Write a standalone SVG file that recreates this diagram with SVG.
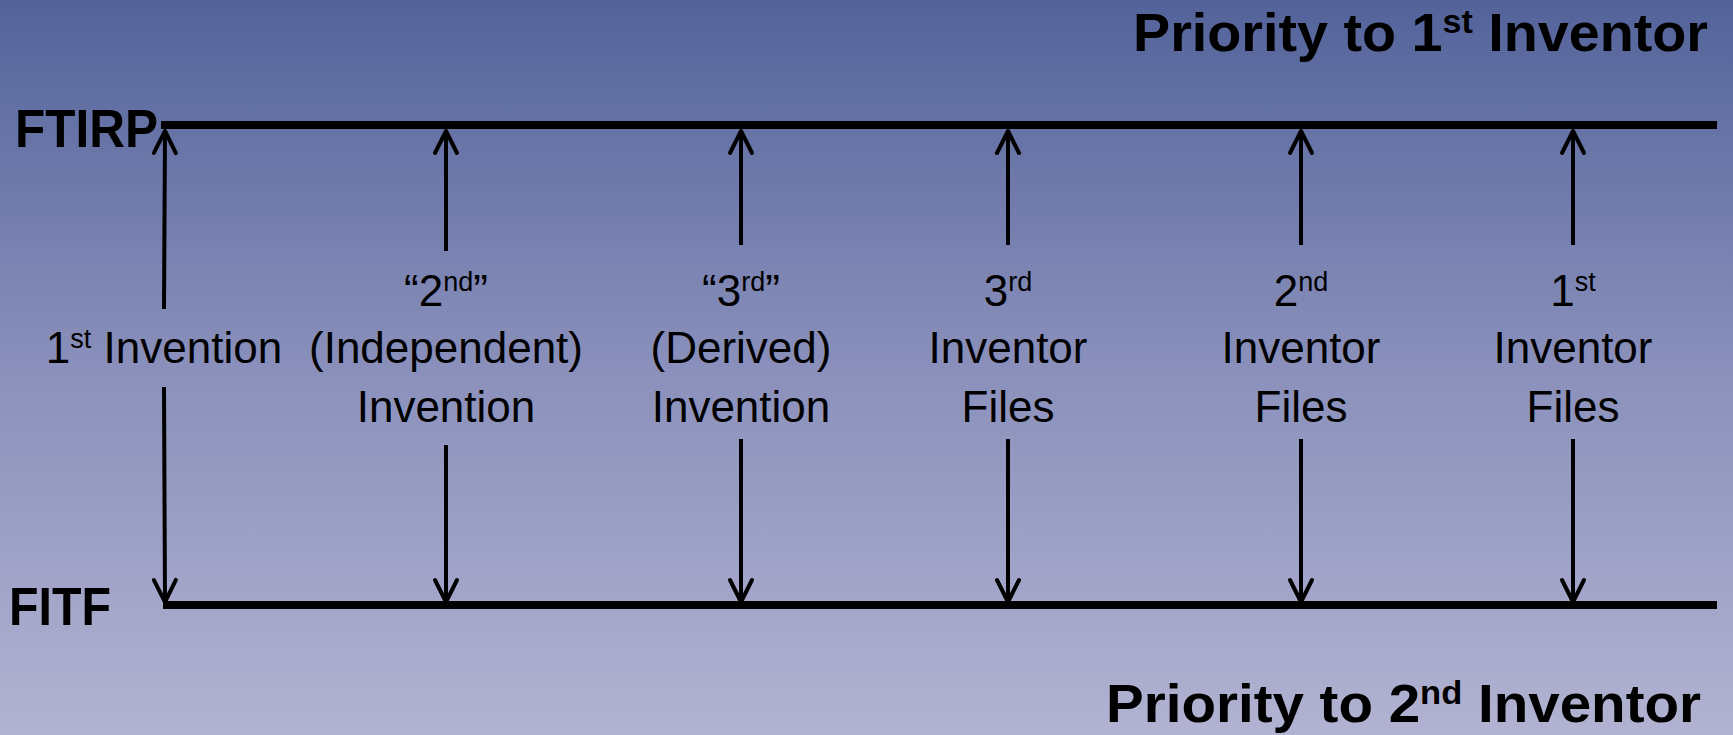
<svg xmlns="http://www.w3.org/2000/svg" width="1733" height="735" viewBox="0 0 1733 735">
  <style>
    .lbl { font-family: "Liberation Sans", Arial, sans-serif; font-size: 44px; fill: #000; text-anchor: middle; }
    .sup { font-size: 27px; }
    .bold { font-family: "Liberation Sans", Arial, sans-serif; font-size: 54px; font-weight: bold; fill: #000; }
    .bsup { font-size: 33px; }
    .timeline { stroke: #000; stroke-width: 8; fill: none; }
    .arrow { stroke: #000; stroke-width: 4; fill: none; marker-end: url(#ah); }
  </style>
  <defs>
    <linearGradient id="bg" x1="0" y1="0" x2="0" y2="1">
      <stop offset="0" stop-color="#53639a"/>
      <stop offset="0.5" stop-color="#8a90bb"/>
      <stop offset="1" stop-color="#b2b3d2"/>
    </linearGradient>
    <marker id="ah" markerUnits="userSpaceOnUse" markerWidth="30" markerHeight="30" viewBox="-26 -15 30 30" refX="0" refY="0" orient="auto">
      <path d="M-22,-11 L0,0 L-22,11" fill="none" stroke="#000" stroke-width="4" stroke-linecap="round" stroke-linejoin="round"/>
    </marker>
  </defs>
  <rect x="0" y="0" width="1733" height="735" fill="url(#bg)"/>

  <g id="title-top">
    <text class="bold" x="1133" y="51" textLength="575" lengthAdjust="spacingAndGlyphs">Priority to 1<tspan class="bsup" dy="-18">st</tspan><tspan dy="18"> Inventor</tspan></text>
  </g>
  <g id="title-bottom">
    <text class="bold" x="1106" y="722" textLength="595" lengthAdjust="spacingAndGlyphs">Priority to 2<tspan class="bsup" dy="-18">nd</tspan><tspan dy="18"> Inventor</tspan></text>
  </g>

  <g id="ftirp">
    <text class="bold" x="15" y="147" textLength="143" lengthAdjust="spacingAndGlyphs">FTIRP</text>
    <line class="timeline" x1="161" y1="125" x2="1717" y2="125"/>
  </g>
  <g id="fitf">
    <text class="bold" x="9" y="625" textLength="102" lengthAdjust="spacingAndGlyphs">FITF</text>
    <line class="timeline" x1="163" y1="605" x2="1717" y2="605"/>
  </g>

  <g id="col1">
    <text class="lbl" x="164" y="363">1<tspan class="sup" dy="-15">st</tspan><tspan dy="15"> Invention</tspan></text>
  </g>
  <g id="col2">
    <text class="lbl" x="446" y="306">“2<tspan class="sup" dy="-15">nd</tspan><tspan dy="15">”</tspan></text>
    <text class="lbl" x="446" y="363">(Independent)</text>
    <text class="lbl" x="446" y="422">Invention</text>
  </g>
  <g id="col3">
    <text class="lbl" x="741" y="306">“3<tspan class="sup" dy="-15">rd</tspan><tspan dy="15">”</tspan></text>
    <text class="lbl" x="741" y="363">(Derived)</text>
    <text class="lbl" x="741" y="422">Invention</text>
  </g>
  <g id="col4">
    <text class="lbl" x="1008" y="306">3<tspan class="sup" dy="-15">rd</tspan></text>
    <text class="lbl" x="1008" y="363">Inventor</text>
    <text class="lbl" x="1008" y="422">Files</text>
  </g>
  <g id="col5">
    <text class="lbl" x="1301" y="306">2<tspan class="sup" dy="-15">nd</tspan></text>
    <text class="lbl" x="1301" y="363">Inventor</text>
    <text class="lbl" x="1301" y="422">Files</text>
  </g>
  <g id="col6">
    <text class="lbl" x="1573" y="306">1<tspan class="sup" dy="-15">st</tspan></text>
    <text class="lbl" x="1573" y="363">Inventor</text>
    <text class="lbl" x="1573" y="422">Files</text>
  </g>

  <g id="connectors">
    <line class="arrow" x1="164" y1="309" x2="165" y2="131"/>
    <line class="arrow" x1="164" y1="387" x2="165" y2="602"/>
    <line class="arrow" x1="446" y1="251" x2="446" y2="131"/>
    <line class="arrow" x1="446" y1="445" x2="446" y2="602"/>
    <line class="arrow" x1="741" y1="245" x2="741" y2="131"/>
    <line class="arrow" x1="741" y1="439" x2="741" y2="602"/>
    <line class="arrow" x1="1008" y1="245" x2="1008" y2="131"/>
    <line class="arrow" x1="1008" y1="439" x2="1008" y2="602"/>
    <line class="arrow" x1="1301" y1="245" x2="1301" y2="131"/>
    <line class="arrow" x1="1301" y1="439" x2="1301" y2="602"/>
    <line class="arrow" x1="1573" y1="245" x2="1573" y2="131"/>
    <line class="arrow" x1="1573" y1="439" x2="1573" y2="602"/>
  </g>
</svg>
